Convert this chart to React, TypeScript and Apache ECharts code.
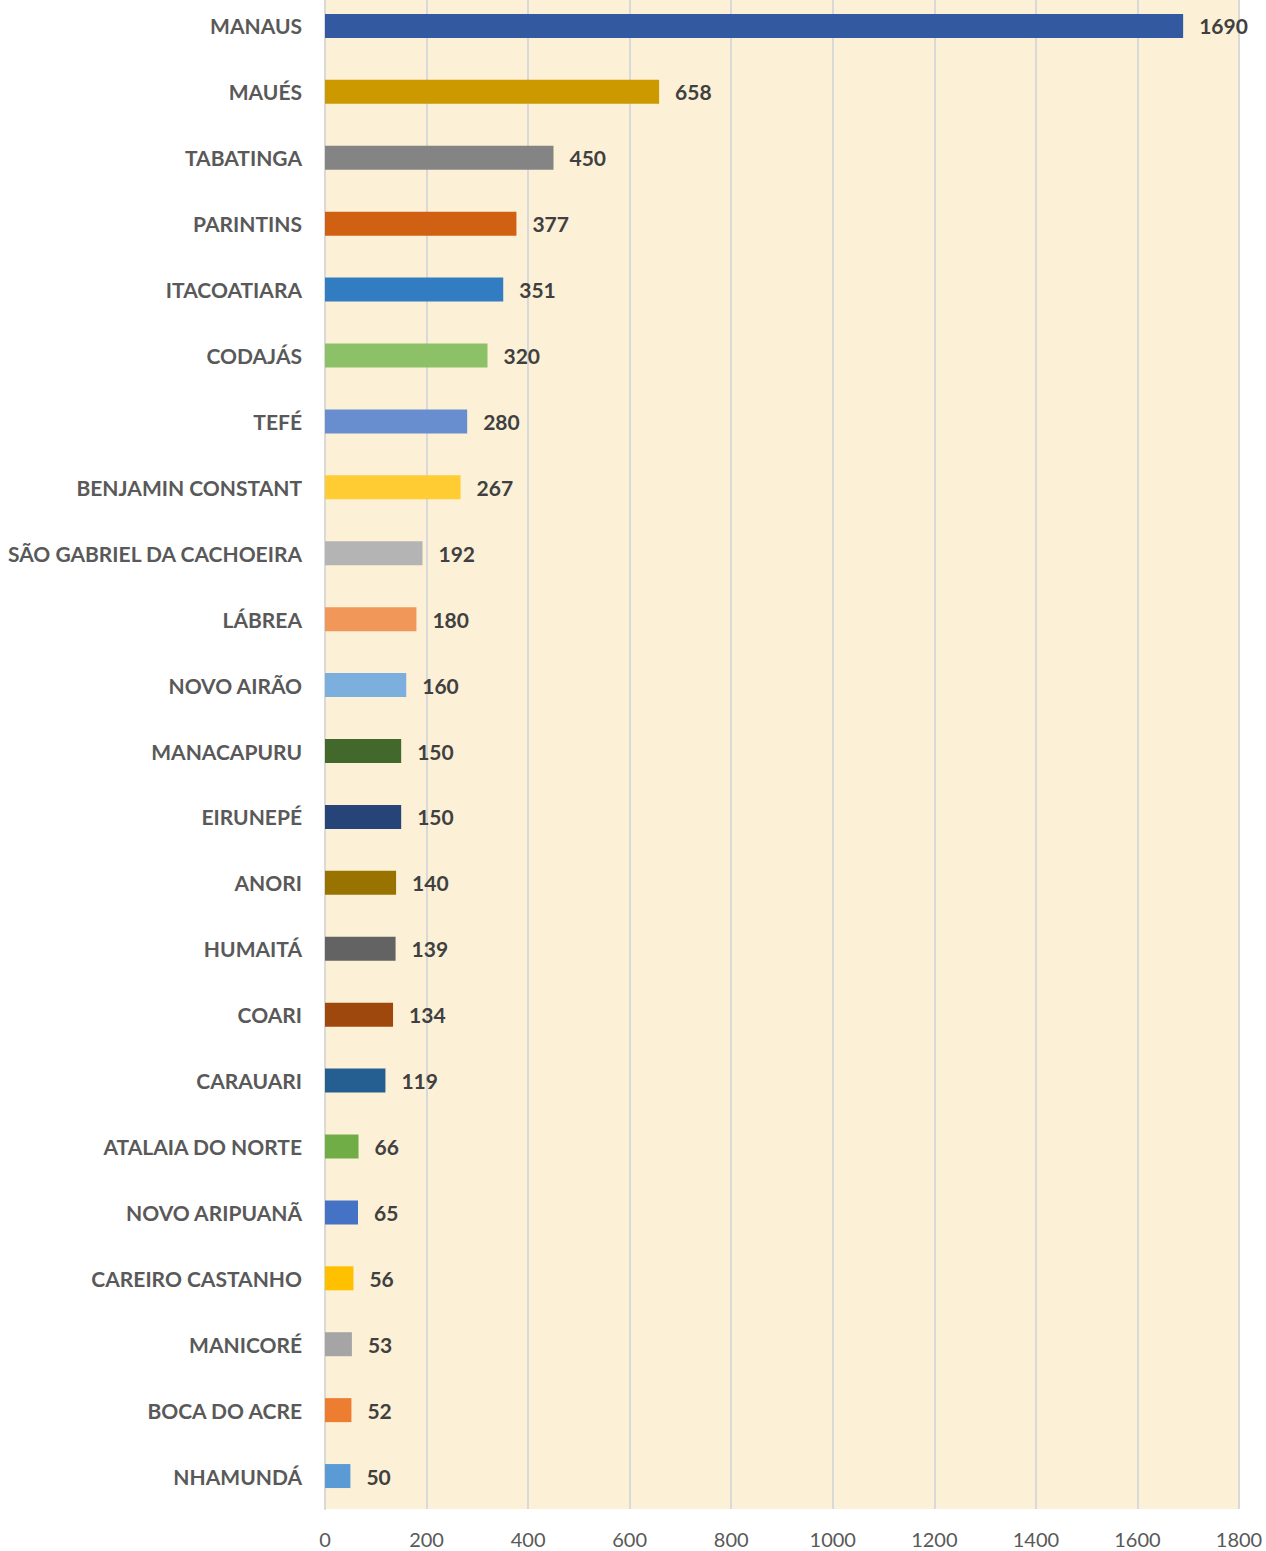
import React, { useEffect, useRef } from "react";
import * as echarts from "echarts";

const categories = [
  "MANAUS", "MAUÉS", "TABATINGA", "PARINTINS", "ITACOATIARA", "CODAJÁS", "TEFÉ",
  "BENJAMIN CONSTANT", "SÃO GABRIEL DA CACHOEIRA", "LÁBREA", "NOVO AIRÃO", "MANACAPURU",
  "EIRUNEPÉ", "ANORI", "HUMAITÁ", "COARI", "CARAUARI", "ATALAIA DO NORTE",
  "NOVO ARIPUANÃ", "CAREIRO CASTANHO", "MANICORÉ", "BOCA DO ACRE", "NHAMUNDÁ",
];
const values = [1690, 658, 450, 377, 351, 320, 280, 267, 192, 180, 160, 150, 150, 140, 139, 134, 119, 66, 65, 56, 53, 52, 50];
const barColors = [
  "#335AA0", "#CC9900", "#848484", "#D06012", "#327DC2", "#8CC168", "#698ED0",
  "#FFCD33", "#B4B4B4", "#F1975A", "#7CAFDD", "#43682B", "#264478", "#997300",
  "#636363", "#9E480E", "#255E91", "#70AD47", "#4472C4", "#FFC000", "#A5A5A5",
  "#ED7D31", "#5B9BD5",
];
const xTicks = [0, 200, 400, 600, 800, 1000, 1200, 1400, 1600, 1800];

export default function App() {
  const ref = useRef<HTMLDivElement>(null);
  useEffect(() => {
    if (!ref.current) return;
    const chart = echarts.init(ref.current, undefined, { renderer: "svg" });
    const font = "Lato, 'Open Sans', sans-serif";
    chart.setOption({
      animation: false,
      backgroundColor: "#ffffff",
      grid: {
        left: 325,
        right: 27,
        top: 0,
        bottom: 42,
        show: true,
        backgroundColor: "#FCF0D6",
        borderWidth: 0,
      },
      xAxis: {
        type: "value",
        min: xTicks[0],
        max: xTicks[xTicks.length - 1],
        interval: 200,
        axisLine: { show: false },
        axisTick: { show: false },
        splitLine: { show: true, lineStyle: { color: "#D9D9D9", width: 2 } },
        axisLabel: {
          color: "#595959",
          fontFamily: font,
          fontSize: 20,
          margin: 20,
          formatter: (v: number) => String(v),
        },
      },
      yAxis: {
        type: "category",
        data: categories,
        inverse: true,
        axisLine: { show: true, lineStyle: { color: "#D9D9D9", width: 2 } },
        axisTick: { show: false },
        axisLabel: {
          color: "#595959",
          fontFamily: font,
          fontWeight: "bold",
          fontSize: 21,
          margin: 23,
        },
      },
      series: [
        {
          type: "bar",
          data: values.map((v, i) => ({ value: v, itemStyle: { color: barColors[i] } })),
          barWidth: 24,
          label: {
            show: true,
            position: "right",
            distance: 16,
            color: "#404040",
            fontFamily: font,
            fontWeight: "bold",
            fontSize: 21,
          },
        },
      ],
    });
    return () => chart.dispose();
  }, []);
  return (
    <div style={{ position: "absolute", left: 0, top: 0, width: 1266, height: 1551, overflow: "hidden" }}>
      <div ref={ref} style={{ width: 1266, height: 1558, position: "absolute", left: 0, top: -7 }} />
    </div>
  );
}
